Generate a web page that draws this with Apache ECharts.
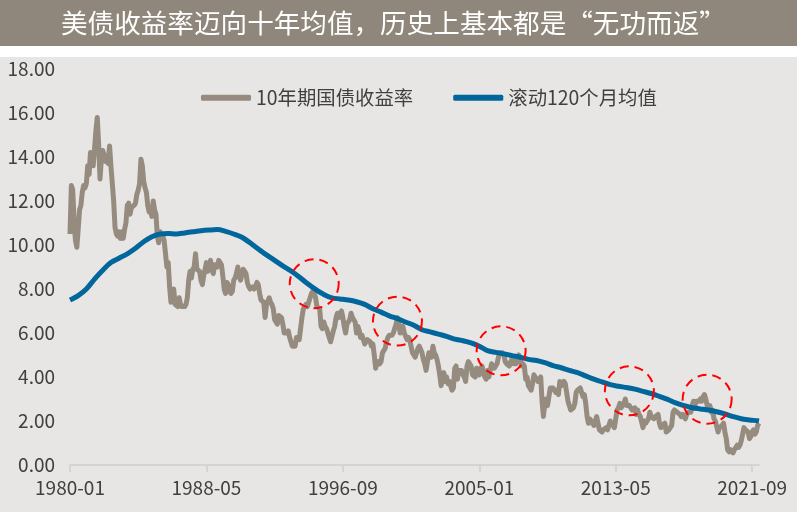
<!DOCTYPE html>
<html>
<head>
<meta charset="utf-8">
<script src="https://cdn.jsdelivr.net/npm/echarts@6/dist/echarts.min.js"></script>
<style>
html,body{margin:0;padding:0;background:#ffffff;}
#chart{width:797px;height:512px;}
</style>
</head>
<body>
<div id="chart"></div>
<script>
// 10年期国债收益率 (month-end), 1980-01 .. 2022-02
const yield10 = [
  10.5, 12.7, 12.5, 11.1, 10.2, 9.9, 10.7, 11.6, 11.8, 12.4, 12.7, 12.6,   // 1980
  12.8, 13.6, 13.2, 14.2, 13.8, 13.6, 14.4, 15.2, 15.8, 14.6, 13.0, 13.9,  // 1981
  14.3, 14.1, 13.8, 14.0, 13.7, 14.5, 13.6, 12.8, 12.0, 10.8, 10.5, 10.4,  // 1982
  10.6, 10.3, 10.6, 10.3, 10.7, 11.0, 11.8, 11.9, 11.4, 11.7, 11.7, 11.8,  // 1983
  11.9, 12.3, 12.5, 12.8, 13.9, 13.6, 12.9, 12.6, 12.4, 11.8, 11.5, 11.6,  // 1984
  11.3, 12.0, 11.6, 11.4, 10.4, 10.1, 10.6, 10.3, 10.4, 10.2, 9.6, 9.0,    // 1985
  9.2, 8.1, 7.4, 7.5, 8.0, 7.3, 7.3, 7.2, 7.6, 7.3, 7.2, 7.2,              // 1986
  7.2, 7.3, 7.6, 8.4, 8.8, 8.5, 8.9, 9.0, 9.6, 8.9, 8.9, 8.8,              // 1987
  8.4, 8.2, 8.6, 8.9, 9.2, 8.8, 9.1, 9.3, 8.9, 8.7, 9.1, 9.1,              // 1988
  9.0, 9.3, 9.3, 9.1, 8.6, 8.0, 7.8, 8.3, 8.2, 7.9, 7.8, 7.9,              // 1989
  8.4, 8.5, 8.7, 9.0, 8.6, 8.4, 8.4, 8.9, 8.8, 8.7, 8.3, 8.1,              // 1990
  8.0, 8.0, 8.1, 8.0, 8.1, 8.3, 8.2, 7.8, 7.5, 7.5, 7.4, 6.7,              // 1991
  7.3, 7.3, 7.6, 7.4, 7.3, 7.1, 6.6, 6.6, 6.4, 6.8, 6.8, 6.7,              // 1992
  6.4, 6.0, 6.0, 6.0, 6.1, 5.8, 5.8, 5.4, 5.4, 5.4, 5.8, 5.8,              // 1993
  5.7, 6.2, 6.7, 7.1, 7.2, 7.3, 7.2, 7.2, 7.6, 7.8, 7.9, 7.8,              // 1994
  7.6, 7.2, 7.2, 7.1, 6.3, 6.2, 6.5, 6.3, 6.2, 6.0, 5.8, 5.6,              // 1995
  5.6, 6.1, 6.3, 6.7, 6.9, 6.7, 6.9, 7.0, 6.7, 6.3, 6.0, 6.4,              // 1996
  6.5, 6.6, 6.9, 6.7, 6.6, 6.5, 6.0, 6.3, 6.1, 5.8, 5.9, 5.7,              // 1997
  5.5, 5.6, 5.7, 5.7, 5.6, 5.4, 5.5, 5.0, 4.4, 4.6, 4.7, 4.6,              // 1998
  4.7, 5.1, 5.2, 5.3, 5.6, 5.8, 5.9, 5.9, 5.9, 6.0, 6.2, 6.4,              // 1999
  6.7, 6.4, 6.0, 6.2, 6.3, 6.0, 6.0, 5.7, 5.8, 5.7, 5.4, 5.1,              // 2000
  5.1, 4.9, 4.9, 5.3, 5.4, 5.4, 5.1, 4.8, 4.6, 4.3, 4.7, 5.1,              // 2001
  5.0, 4.9, 5.4, 5.1, 5.0, 4.8, 4.5, 4.1, 3.6, 3.9, 4.2, 3.8,              // 2002
  4.0, 3.7, 3.8, 3.8, 3.4, 3.5, 4.4, 4.5, 3.9, 4.3, 4.3, 4.3,              // 2003
  4.1, 4.0, 3.8, 4.5, 4.7, 4.6, 4.5, 4.1, 4.1, 4.0, 4.4, 4.2,              // 2004
  4.1, 4.4, 4.5, 4.2, 4.0, 3.9, 4.3, 4.0, 4.3, 4.6, 4.5, 4.4,              // 2005
  4.5, 4.6, 4.9, 5.1, 5.1, 5.1, 5.0, 4.7, 4.6, 4.6, 4.5, 4.7,              // 2006
  4.8, 4.6, 4.6, 4.6, 4.9, 5.0, 4.8, 4.5, 4.6, 4.5, 3.9, 4.0,              // 2007
  3.6, 3.5, 3.4, 3.7, 4.1, 4.0, 4.0, 3.8, 3.8, 4.0, 2.9, 2.2,              // 2008
  2.8, 3.0, 2.7, 3.1, 3.5, 3.5, 3.5, 3.4, 3.3, 3.4, 3.2, 3.8,              // 2009
  3.6, 3.6, 3.8, 3.7, 3.3, 2.9, 2.9, 2.5, 2.5, 2.6, 2.8, 3.3,              // 2010
  3.4, 3.4, 3.5, 3.3, 3.1, 3.2, 2.8, 2.2, 1.9, 2.1, 2.1, 1.9,              // 2011
  1.8, 2.0, 2.2, 1.9, 1.6, 1.6, 1.5, 1.6, 1.6, 1.7, 1.6, 1.8,              // 2012
  2.0, 1.9, 1.9, 1.7, 2.1, 2.5, 2.6, 2.8, 2.6, 2.6, 2.8, 3.0,              // 2013
  2.7, 2.7, 2.7, 2.7, 2.5, 2.5, 2.6, 2.3, 2.5, 2.3, 2.2, 2.2,              // 2014
  1.7, 2.0, 1.9, 2.0, 2.1, 2.4, 2.2, 2.2, 2.1, 2.2, 2.2, 2.3,              // 2015
  1.9, 1.7, 1.8, 1.8, 1.9, 1.5, 1.5, 1.6, 1.6, 1.8, 2.4, 2.5,              // 2016
  2.5, 2.4, 2.4, 2.3, 2.2, 2.3, 2.3, 2.1, 2.3, 2.4, 2.4, 2.4,              // 2017
  2.7, 2.9, 2.7, 2.9, 2.9, 2.9, 3.0, 2.9, 3.1, 3.2, 3.0, 2.7,              // 2018
  2.6, 2.7, 2.4, 2.5, 2.1, 2.0, 2.0, 1.5, 1.7, 1.7, 1.8, 1.9,              // 2019
  1.5, 1.2, 0.7, 0.6, 0.7, 0.7, 0.55, 0.7, 0.7, 0.9, 0.8, 0.9,             // 2020
  1.1, 1.4, 1.7, 1.6, 1.6, 1.5, 1.2, 1.3, 1.5, 1.6, 1.4, 1.5,              // 2021
  1.8, 1.9                                                                 // 2022
];

// 滚动120个月均值, every 6 months: [month, value]
const avg120 = [
  ['1980-01', 7.5], ['1980-07', 7.7], ['1981-01', 8.0], ['1981-07', 8.45], ['1982-01', 8.85],
  ['1982-07', 9.2], ['1983-01', 9.4], ['1983-07', 9.6], ['1984-01', 9.85], ['1984-07', 10.15],
  ['1985-01', 10.38], ['1985-07', 10.5], ['1986-01', 10.52], ['1986-07', 10.5], ['1987-01', 10.55],
  ['1987-07', 10.6], ['1988-01', 10.65], ['1988-07', 10.68], ['1989-01', 10.7], ['1989-07', 10.62],
  ['1990-01', 10.5], ['1990-07', 10.35], ['1991-01', 10.1], ['1991-07', 9.82], ['1992-01', 9.55],
  ['1992-07', 9.3], ['1993-01', 9.05], ['1993-07', 8.82], ['1994-01', 8.55], ['1994-07', 8.25],
  ['1995-01', 7.98], ['1995-07', 7.75], ['1996-01', 7.6], ['1996-07', 7.55], ['1997-01', 7.5],
  ['1997-07', 7.42], ['1998-01', 7.3], ['1998-07', 7.1], ['1999-01', 6.95], ['1999-07', 6.78],
  ['2000-01', 6.65], ['2000-07', 6.5], ['2001-01', 6.35], ['2001-07', 6.15], ['2002-01', 6.05],
  ['2002-07', 5.95], ['2003-01', 5.85], ['2003-07', 5.72], ['2004-01', 5.65], ['2004-07', 5.55],
  ['2005-01', 5.4], ['2005-07', 5.2], ['2006-01', 5.12], ['2006-07', 5.05], ['2007-01', 4.97],
  ['2007-07', 4.9], ['2008-01', 4.8], ['2008-07', 4.75], ['2009-01', 4.65], ['2009-07', 4.52],
  ['2010-01', 4.42], ['2010-07', 4.3], ['2011-01', 4.2], ['2011-07', 4.05], ['2012-01', 3.9],
  ['2012-07', 3.78], ['2013-01', 3.65], ['2013-07', 3.58], ['2014-01', 3.52], ['2014-07', 3.45],
  ['2015-01', 3.35], ['2015-07', 3.25], ['2016-01', 3.12], ['2016-07', 2.98], ['2017-01', 2.82],
  ['2017-07', 2.7], ['2018-01', 2.6], ['2018-07', 2.55], ['2019-01', 2.5], ['2019-07', 2.42],
  ['2020-01', 2.32], ['2020-07', 2.2], ['2021-01', 2.1], ['2021-07', 2.05], ['2022-01', 2.01],
  ['2022-02', 2.0]
];

// red dashed circles (annotations): [month, value]
const circles = [
  ['1994-12', 8.24], ['2000-01', 6.54], ['2006-05', 5.19], ['2014-03', 3.37], ['2018-12', 2.99]
];

const seriesNames = ['10年期国债收益率', '滚动120个月均值'];
const titleText = '美债收益率迈向十年均值，历史上基本都是“无功而返”';

// month categories 1980-01 .. 2022-02
const months = [];
for (let i = 0; i < yield10.length; i++) {
  const y = 1980 + Math.floor(i / 12);
  const m = (i % 12) + 1;
  months.push(y + '-' + (m < 10 ? '0' + m : m));
}

const FONT = '"Noto Sans CJK SC", "Noto Sans", sans-serif';
const chart = echarts.init(document.getElementById('chart'), null, { renderer: 'canvas' });

chart.setOption({
  backgroundColor: '#ffffff',
  animation: false,
  textStyle: { fontFamily: FONT },
  graphic: [
    { type: 'rect', z: -10, shape: { x: 0, y: 0, width: 797, height: 46 }, style: { fill: '#8f877b' } },
    { type: 'rect', z: -10, shape: { x: 0, y: 57, width: 797, height: 455 }, style: { fill: '#e8e6e4' } }
  ],
  title: {
    text: titleText,
    left: 56,
    top: 5,
    textStyle: { color: '#ffffff', fontSize: 26.6, fontWeight: 'normal', fontFamily: FONT }
  },
  legend: {
    data: seriesNames,
    left: 196,
    top: 83,
    itemWidth: 50,
    itemHeight: 6,
    itemGap: 40,
    icon: 'roundRect',
    textStyle: { fontSize: 19.4, color: '#404040', fontFamily: FONT }
  },
  grid: { left: 70, right: 38, top: 69, bottom: 47, containLabel: false },
  xAxis: {
    type: 'category',
    data: months,
    boundaryGap: false,
    axisLine: { lineStyle: { color: '#d6d4d2', width: 2 } },
    axisTick: { show: true, interval: 99, length: 7, lineStyle: { color: '#d6d4d2', width: 2 } },
    axisLabel: { interval: 99, color: '#404040', fontSize: 19, margin: 13, fontFamily: FONT },
    splitLine: { show: false }
  },
  yAxis: {
    type: 'value',
    min: 0,
    max: 18,
    interval: 2,
    axisLine: { show: false },
    axisTick: { show: false },
    splitLine: { show: false },
    axisLabel: {
      color: '#404040', fontSize: 19, margin: 15, fontFamily: FONT,
      formatter: v => v.toFixed(2)
    }
  },
  series: [
    {
      name: seriesNames[0],
      type: 'line',
      data: yield10,
      symbol: 'none',
      lineStyle: { color: '#958b7f', width: 5, join: 'round' },
      itemStyle: { color: '#958b7f' },
      markPoint: {
        symbol: 'circle',
        symbolSize: 49,
        silent: true,
        label: { show: false },
        itemStyle: { color: 'rgba(0,0,0,0)', borderColor: '#ff0000', borderWidth: 2, borderType: [9, 6] },
        data: circles.map(c => ({ coord: [c[0], c[1]] }))
      },
      z: 2
    },
    {
      name: seriesNames[1],
      type: 'line',
      data: avg120,
      symbol: 'none',
      smooth: 0.3,
      lineStyle: { color: '#00669b', width: 5 },
      itemStyle: { color: '#00669b' },
      z: 3
    }
  ]
});
</script>
</body>
</html>
